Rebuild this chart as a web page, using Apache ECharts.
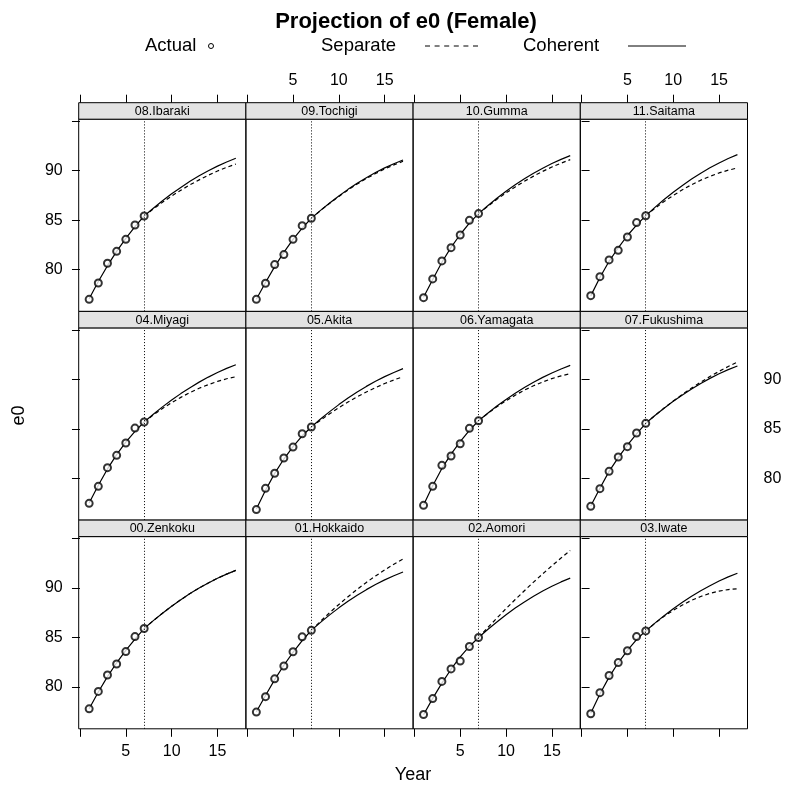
<!DOCTYPE html>
<html>
<head>
<meta charset="utf-8">
<script src="https://cdn.jsdelivr.net/npm/echarts@6/dist/echarts.min.js"></script>
<style>
  html, body { margin: 0; padding: 0; background: #fff; }
  #chart { width: 787px; height: 798px; }
</style>
</head>
<body>
<div id="chart"></div>
<script>
// panels in lattice order, top row first
const prefectures = ['08.Ibaraki', '09.Tochigi', '10.Gumma', '11.Saitama',
  '04.Miyagi', '05.Akita', '06.Yamagata', '07.Fukushima',
  '00.Zenkoku', '01.Hokkaido', '02.Aomori', '03.Iwate'];

const years = [1, 2, 3, 4, 5, 6, 7, 8, 9, 10, 11, 12, 13, 14, 15, 16, 17];
const actualYears = [1, 2, 3, 4, 5, 6, 7];
const separateYears = [7, 8, 9, 10, 11, 12, 13, 14, 15, 16, 17];
const jumpOff = 7;

const xTicks = [0, 5, 10, 15];
const xLabels = [5, 10, 15];
const yTicks = [80, 85, 90, 95];
const yLabels = [80, 85, 90];

const actualE0 = [
  [77.0, 78.65, 80.64, 81.85, 83.06, 84.51, 85.42],
  [77.0, 78.62, 80.51, 81.52, 83.06, 84.44, 85.19],
  [77.17, 79.06, 80.88, 82.22, 83.5, 84.98, 85.66],
  [77.37, 79.29, 80.98, 81.95, 83.3, 84.75, 85.45],
  [77.47, 79.19, 81.08, 82.32, 83.57, 85.08, 85.69],
  [76.84, 78.99, 80.51, 82.05, 83.16, 84.51, 85.19],
  [77.27, 79.19, 81.31, 82.26, 83.5, 85.05, 85.82],
  [77.17, 78.96, 80.71, 82.15, 83.2, 84.58, 85.56],
  [77.8, 79.56, 81.22, 82.33, 83.58, 85.1, 85.91],
  [77.47, 79.03, 80.83, 82.13, 83.57, 85.07, 85.73],
  [77.23, 78.83, 80.57, 81.83, 82.63, 84.1, 85.0],
  [77.3, 79.43, 81.17, 82.47, 83.67, 85.1, 85.67]
];

const coherentE0 = [
  [77.05, 78.8, 80.4, 81.85, 83.15, 84.35, 85.42, 86.21, 86.96, 87.66, 88.31, 88.92, 89.48, 89.99, 90.46, 90.88, 91.25],
  [77.0, 78.7, 80.3, 81.75, 83.05, 84.2, 85.19, 85.99, 86.74, 87.45, 88.11, 88.72, 89.29, 89.81, 90.28, 90.7, 91.08],
  [77.2, 79.0, 80.75, 82.25, 83.55, 84.7, 85.66, 86.46, 87.21, 87.91, 88.57, 89.18, 89.74, 90.25, 90.72, 91.14, 91.52],
  [77.35, 79.2, 80.85, 82.2, 83.45, 84.5, 85.45, 86.29, 87.08, 87.82, 88.51, 89.15, 89.74, 90.29, 90.78, 91.23, 91.62],
  [77.5, 79.3, 80.95, 82.4, 83.65, 84.75, 85.69, 86.48, 87.22, 87.91, 88.56, 89.16, 89.72, 90.23, 90.69, 91.11, 91.48],
  [76.9, 78.8, 80.5, 81.95, 83.2, 84.3, 85.19, 85.99, 86.74, 87.45, 88.11, 88.72, 89.29, 89.81, 90.28, 90.7, 91.08],
  [77.3, 79.25, 81.0, 82.45, 83.7, 84.85, 85.82, 86.58, 87.3, 87.97, 88.59, 89.17, 89.71, 90.2, 90.65, 91.05, 91.41],
  [77.2, 79.0, 80.7, 82.1, 83.35, 84.5, 85.56, 86.35, 87.09, 87.78, 88.43, 89.03, 89.59, 90.1, 90.56, 90.98, 91.35],
  [77.8, 79.5, 81.05, 82.45, 83.7, 84.85, 85.91, 86.71, 87.46, 88.17, 88.83, 89.44, 90.0, 90.52, 90.99, 91.41, 91.79],
  [77.5, 79.15, 80.75, 82.2, 83.5, 84.7, 85.73, 86.53, 87.29, 88.0, 88.66, 89.27, 89.84, 90.36, 90.83, 91.25, 91.63],
  [77.2, 78.85, 80.4, 81.8, 83.05, 84.1, 85.0, 85.82, 86.58, 87.3, 87.98, 88.6, 89.18, 89.7, 90.18, 90.62, 91.0],
  [77.35, 79.3, 81.0, 82.45, 83.7, 84.8, 85.67, 86.46, 87.21, 87.91, 88.56, 89.17, 89.73, 90.24, 90.71, 91.13, 91.5]
];

const separateE0 = [
  [85.42, 86.13, 86.81, 87.44, 88.02, 88.57, 89.07, 89.54, 89.96, 90.33, 90.67],
  [85.19, 85.97, 86.71, 87.4, 88.05, 88.65, 89.2, 89.71, 90.17, 90.58, 90.95],
  [85.66, 86.4, 87.1, 87.75, 88.36, 88.93, 89.45, 89.93, 90.37, 90.76, 91.11],
  [85.45, 86.19, 86.88, 87.5, 88.07, 88.58, 89.04, 89.43, 89.77, 90.05, 90.27],
  [85.69, 86.4, 87.05, 87.64, 88.18, 88.67, 89.1, 89.47, 89.79, 90.06, 90.27],
  [85.19, 85.88, 86.53, 87.14, 87.71, 88.24, 88.73, 89.17, 89.58, 89.94, 90.27],
  [85.82, 86.55, 87.23, 87.84, 88.4, 88.91, 89.35, 89.74, 90.08, 90.35, 90.57],
  [85.56, 86.35, 87.1, 87.81, 88.48, 89.12, 89.72, 90.28, 90.81, 91.3, 91.75],
  [85.91, 86.71, 87.46, 88.17, 88.83, 89.44, 90.0, 90.52, 90.99, 91.41, 91.79],
  [85.73, 86.64, 87.52, 88.34, 89.13, 89.87, 90.57, 91.22, 91.84, 92.4, 92.93],
  [85.0, 86.0, 86.97, 87.92, 88.84, 89.73, 90.6, 91.44, 92.25, 93.04, 93.8],
  [85.67, 86.44, 87.14, 87.75, 88.29, 88.76, 89.15, 89.46, 89.69, 89.85, 89.93]
];

var FONT = '"Liberation Sans", Arial, Helvetica, sans-serif';
var colLeft = [78.7, 245.9, 413.1, 580.3];
var panelW = 167.2;
var rowTop = [102.7, 311.4, 520.1];
var stripH = 16.5;
var plotH = 192.2;

var myChart = echarts.init(document.getElementById('chart'), null, { renderer: 'canvas' });

var grids = [], xAxes = [], yAxes = [], series = [], graphics = [];

prefectures.forEach(function (name, i) {
  var r = Math.floor(i / 4), c = i % 4;
  grids.push({
    left: colLeft[c], top: rowTop[r] + stripH, width: panelW, height: plotH,
    show: true, borderColor: '#000', borderWidth: 1, backgroundColor: 'transparent'
  });

  // strip
  graphics.push({
    type: 'rect', z: 10,
    shape: { x: colLeft[c], y: rowTop[r], width: panelW, height: stripH },
    style: { fill: '#e3e3e3', stroke: '#000', lineWidth: 1 }
  });
  graphics.push({
    type: 'text', z: 11, x: colLeft[c] + panelW / 2, y: rowTop[r] + stripH / 2 + 0.5,
    style: { text: name, font: '12.5px ' + FONT, fill: '#000', align: 'center', verticalAlign: 'middle' }
  });

  var topRow = r === 0, bottomRow = r === 2;
  xAxes.push({
    gridIndex: i, type: 'value', min: -0.14, max: 18.1,
    position: topRow ? 'top' : 'bottom',
    offset: topRow ? stripH : 0,
    axisLine: { show: false },
    splitLine: { show: false },
    axisTick: { show: topRow || bottomRow, length: 8, customValues: xTicks, lineStyle: { color: '#000', width: 1 } },
    axisLabel: {
      show: (topRow && c % 2 === 1) || (bottomRow && c % 2 === 0),
      customValues: xLabels, margin: topRow ? 14 : 15,
      color: '#000', fontSize: 16, fontFamily: FONT
    }
  });

  var leftCol = c === 0, rightCol = c === 3;
  yAxes.push({
    gridIndex: i, type: 'value', min: 75.78, max: 95.2,
    position: rightCol ? 'right' : 'left',
    axisLine: { show: false },
    splitLine: { show: false },
    axisTick: { show: leftCol || rightCol, length: 8, customValues: yTicks, lineStyle: { color: '#000', width: 1 } },
    axisLabel: {
      show: (leftCol && r !== 1) || (rightCol && r === 1),
      customValues: yLabels, margin: 16,
      color: '#000', fontSize: 16, fontFamily: FONT
    }
  });

  series.push({
    type: 'line', xAxisIndex: i, yAxisIndex: i, z: 2,
    symbol: 'none', silent: true,
    data: separateYears.map(function (y, k) { return [y, separateE0[i][k]]; }),
    lineStyle: { color: '#000', width: 1.2, type: [4, 3] }
  });
  series.push({
    type: 'line', xAxisIndex: i, yAxisIndex: i, z: 3,
    symbol: 'none', silent: true,
    data: years.map(function (y, k) { return [y, coherentE0[i][k]]; }),
    lineStyle: { color: '#000', width: 1.2 },
    markLine: {
      silent: true, symbol: ['none', 'none'], label: { show: false },
      lineStyle: { color: '#000', width: 1, type: [1, 2] },
      data: [{ xAxis: jumpOff }]
    }
  });
  series.push({
    type: 'scatter', xAxisIndex: i, yAxisIndex: i, z: 4,
    symbol: 'emptyCircle', symbolSize: 7, silent: true,
    data: actualYears.map(function (y, k) { return [y, actualE0[i][k]]; }),
    itemStyle: { color: '#000', borderColor: '#000', borderWidth: 1 }
  });
});

// title, legend key, axis titles
graphics.push(
  { type: 'text', x: 406, y: 22, style: { text: 'Projection of e0 (Female)', font: 'bold 22px ' + FONT, fill: '#000', align: 'center', verticalAlign: 'middle' } },
  { type: 'text', x: 145, y: 46, style: { text: 'Actual', font: '18.5px ' + FONT, fill: '#000', align: 'left', verticalAlign: 'middle' } },
  { type: 'circle', shape: { cx: 211, cy: 46, r: 2.5 }, style: { fill: 'none', stroke: '#000', lineWidth: 1 } },
  { type: 'text', x: 321, y: 46, style: { text: 'Separate', font: '18.5px ' + FONT, fill: '#000', align: 'left', verticalAlign: 'middle' } },
  { type: 'line', shape: { x1: 425, y1: 46, x2: 478, y2: 46 }, style: { stroke: '#000', lineWidth: 1, lineDash: [5, 4.6] } },
  { type: 'text', x: 523, y: 46, style: { text: 'Coherent', font: '18.5px ' + FONT, fill: '#000', align: 'left', verticalAlign: 'middle' } },
  { type: 'line', shape: { x1: 628, y1: 46, x2: 686, y2: 46 }, style: { stroke: '#000', lineWidth: 1 } },
  { type: 'text', x: 413, y: 775, style: { text: 'Year', font: '18px ' + FONT, fill: '#000', align: 'center', verticalAlign: 'middle' } },
  { type: 'text', x: 19, y: 415.5, rotation: Math.PI / 2, style: { text: 'e0', font: '18px ' + FONT, fill: '#000', align: 'center', verticalAlign: 'middle' } }
);

var option = {
  animation: false,
  backgroundColor: '#fff',
  grid: grids,
  xAxis: xAxes,
  yAxis: yAxes,
  series: series,
  graphic: graphics
};
option && myChart.setOption(option);
</script>
</body>
</html>
